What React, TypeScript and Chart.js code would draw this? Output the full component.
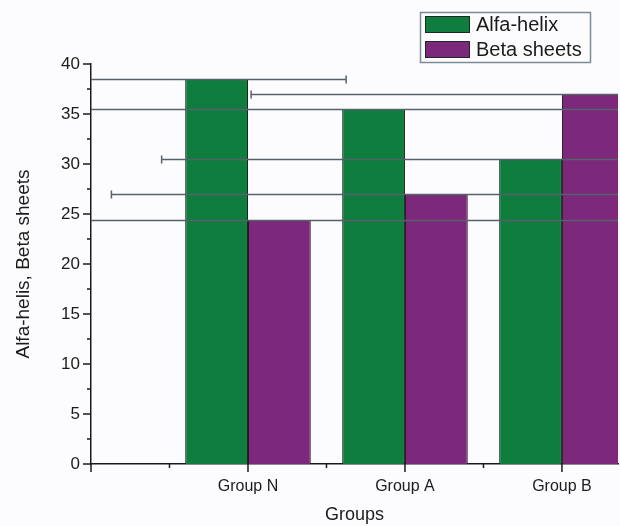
import { useEffect, useRef } from 'react';
import { Chart, registerables } from 'chart.js';

Chart.register(...registerables);

// Groups sit at x = 1, 2, 3 on a linear axis; x = 0 is the empty slot at the origin.
const groups = ['Group N', 'Group A', 'Group B'];
const groupPositions = [1, 2, 3];
const xTickValues = [0, 1, 2, 3];
const xTickLabels = ['', ...groups];
const yTickValues = [0, 5, 10, 15, 20, 25, 30, 35, 40];

const alfaHelix = [38.5, 35.5, 30.5];
const betaSheets = [24.4, 27, 37];

// Horizontal error half-widths, in x-axis units.
const alfaHelixErr = [0.825, 2.0, 2.35];
const betaSheetsErr = [2.3, 2.07, 2.18];

const GREEN = '#0f7d3e';
const PURPLE = '#7c287b';
const FONT = '"Liberation Sans", Arial, Helvetica, sans-serif';
const INK = '#1b1b1b';

const errorBarsPlugin = {
  id: 'xErrorBars',
  afterDatasetsDraw(chart: any) {
    const { ctx, chartArea, scales } = chart;
    const xs = scales.x;
    const unit = xs.getPixelForValue(1) - xs.getPixelForValue(0);
    ctx.save();
    ctx.beginPath();
    ctx.rect(chartArea.left, chartArea.top, chartArea.right - chartArea.left, chartArea.bottom - chartArea.top);
    ctx.clip();
    ctx.strokeStyle = '#56616c';
    ctx.lineWidth = 1.5;
    chart.data.datasets.forEach((ds: any, di: number) => {
      const meta = chart.getDatasetMeta(di);
      const errs: number[] = ds.xErrors || [];
      meta.data.forEach((bar: any, i: number) => {
        const hw = (errs[i] || 0) * unit;
        const y = Math.round(bar.y) + 0.5;
        const x0 = bar.x - hw;
        const x1 = bar.x + hw;
        ctx.beginPath();
        ctx.moveTo(x0, y);
        ctx.lineTo(x1, y);
        ctx.moveTo(x0, y - 4);
        ctx.lineTo(x0, y + 4);
        ctx.moveTo(x1, y - 4);
        ctx.lineTo(x1, y + 4);
        ctx.stroke();
      });
    });
    ctx.restore();
  },
};

const decorPlugin = {
  id: 'decor',
  beforeDraw(chart: any) {
    const { ctx, width, height } = chart;
    ctx.save();
    ctx.fillStyle = '#fcfcfe';
    ctx.fillRect(0, 0, width, height);
    ctx.restore();
  },
  afterDraw(chart: any) {
    const { ctx, chartArea, scales } = chart;
    const xs = scales.x;
    const ys = scales.y;
    ctx.save();
    ctx.strokeStyle = INK;
    ctx.lineWidth = 1.5;
    // y ticks: major every 5 and minor halfway, pointing outward
    ctx.beginPath();
    for (let v = 0; v <= 40; v += 2.5) {
      const y = ys.getPixelForValue(v);
      const major = v % 5 === 0;
      ctx.moveTo(chartArea.left - (major ? 8 : 4), y);
      ctx.lineTo(chartArea.left, y);
    }
    // x ticks: major at each slot, minor halfway
    for (let v = 0; v <= 3; v += 0.5) {
      const x = xs.getPixelForValue(v);
      const major = v % 1 === 0;
      ctx.moveTo(x, chartArea.bottom);
      ctx.lineTo(x, chartArea.bottom + (major ? 8 : 4));
    }
    ctx.stroke();

    // legend
    const lx = 420.5, ly = 12.5, lw = 170, lh = 50;
    ctx.strokeStyle = '#7d8b97';
    ctx.lineWidth = 1.5;
    ctx.strokeRect(lx, ly, lw, lh);
    ctx.font = `20px ${FONT}`;
    ctx.textBaseline = 'middle';
    ctx.textAlign = 'left';
    chart.data.datasets.forEach((ds: any, i: number) => {
      const sy = 16 + i * 25;
      ctx.fillStyle = ds.backgroundColor;
      ctx.fillRect(425, sy, 45, 17);
      ctx.strokeStyle = '#1d2a22';
      ctx.lineWidth = 1;
      ctx.strokeRect(425.5, sy + 0.5, 44, 16);
      ctx.fillStyle = INK;
      ctx.fillText(ds.label, 476, sy + 9);
    });
    ctx.restore();
  },
};

export default function App() {
  const canvasRef = useRef<HTMLCanvasElement | null>(null);

  useEffect(() => {
    document.body.style.margin = '0';
    const canvas = canvasRef.current;
    if (!canvas) return;
    const chart = new Chart(canvas, {
      type: 'bar',
      data: {
        datasets: [
          {
            label: 'Alfa-helix',
            data: groupPositions.map((x, i) => ({ x, y: alfaHelix[i] })),
            backgroundColor: GREEN,
            borderColor: '#14261a',
            borderWidth: 1,
            clip: 0,
            xErrors: alfaHelixErr,
          } as any,
          {
            label: 'Beta sheets',
            data: groupPositions.map((x, i) => ({ x, y: betaSheets[i] })),
            backgroundColor: PURPLE,
            borderColor: '#2a1428',
            borderWidth: 1,
            clip: 0,
            xErrors: betaSheetsErr,
          } as any,
        ],
      },
      options: {
        animation: false,
        responsive: false,
        maintainAspectRatio: false,
        layout: { padding: { top: 64, right: 2, bottom: 0, left: 0 } },
        datasets: { bar: { categoryPercentage: 0.8, barPercentage: 1.0 } },
        plugins: {
          legend: { display: false },
          tooltip: { enabled: false },
        },
        scales: {
          x: {
            type: 'linear',
            offset: false,
            min: 0,
            max: 3.357,
            grid: { display: false, drawTicks: false, offset: false },
            border: { display: true, color: INK, width: 1.5 },
            afterBuildTicks: (scale: any) => {
              scale.ticks = xTickValues.map((value) => ({ value }));
            },
            afterFit: (scale: any) => {
              scale.height = 62;
            },
            ticks: {
              padding: 13,
              color: INK,
              font: { family: FONT, size: 16 },
              maxRotation: 0,
              autoSkip: false,
              callback: (value: any) => xTickLabels[xTickValues.indexOf(Number(value))] ?? '',
            },
            title: {
              display: true,
              text: 'Groups',
              color: INK,
              font: { family: FONT, size: 18 },
              padding: { top: 0, bottom: 0 },
            },
          },
          y: {
            min: 0,
            max: 40,
            grid: { display: false, drawTicks: false },
            border: { display: true, color: INK, width: 1.5 },
            afterBuildTicks: (scale: any) => {
              scale.ticks = yTickValues.map((value) => ({ value }));
            },
            afterFit: (scale: any) => {
              scale.width = 91;
            },
            ticks: {
              padding: 11,
              color: INK,
              font: { family: FONT, size: 17 },
            },
            title: {
              display: true,
              text: 'Alfa-helis, Beta sheets',
              color: INK,
              font: { family: FONT, size: 19 },
              padding: { top: 12, bottom: 0 },
            },
          },
        },
      },
      plugins: [errorBarsPlugin, decorPlugin],
    } as any);
    return () => chart.destroy();
  }, []);

  return (
    <div style={{ width: 620, height: 526, background: '#fcfcfe' }}>
      <canvas ref={canvasRef} width={620} height={526} style={{ display: 'block' }} />
    </div>
  );
}
